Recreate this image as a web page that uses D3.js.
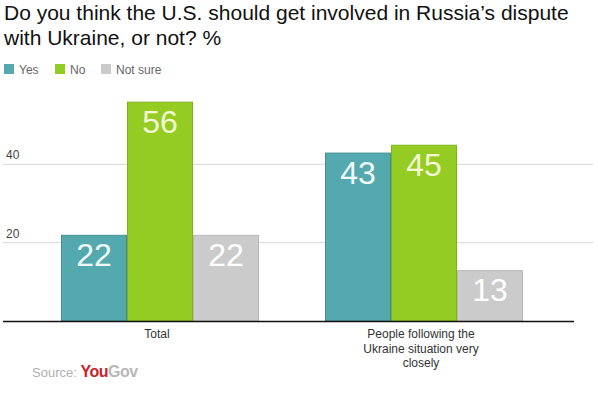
<!DOCTYPE html>
<html>
<head>
<meta charset="utf-8">
<script src="https://cdn.jsdelivr.net/npm/d3@7"></script>
<style>
  body { margin: 0; background: #fff; }
  svg { display: block; font-family: "Liberation Sans", Arial, sans-serif; }
</style>
</head>
<body>
<svg width="598" height="398"></svg>
<script>
// chart data
const categories = ['Total', 'People following the Ukraine situation very closely'];
const categoryLines = [['Total'], ['People following the', 'Ukraine situation very', 'closely']];
const seriesNames = ['Yes', 'No', 'Not sure'];
const yesValues = [22, 43];
const noValues = [56, 45];
const notSureValues = [22, 13];
const yTicks = [20, 40];

const seriesValues = [yesValues, noValues, notSureValues];
const fills = ['#54a9ae', '#95cc24', '#cbcbcb'];
const strokes = ['#438f94', '#7db21a', '#b9b9b9'];
const labelColors = ['#f2fafa', '#f2f9d4', '#ffffff'];

const svg = d3.select('svg');

// title
const title = svg.append('text')
  .attr('fill', '#111')
  .attr('font-size', 21);
title.append('tspan').attr('x', 4).attr('y', 20)
  .text('Do you think the U.S. should get involved in Russia\u2019s dispute');
title.append('tspan').attr('x', 4).attr('y', 45)
  .text('with Ukraine, or not? %');

// legend
const legendX = [4, 55, 101];
const legend = svg.append('g');
seriesNames.forEach((name, i) => {
  legend.append('rect')
    .attr('x', legendX[i]).attr('y', 64)
    .attr('width', 10).attr('height', 10)
    .attr('fill', fills[i]);
  legend.append('text')
    .attr('x', legendX[i] + 15).attr('y', 73.5)
    .attr('font-size', 12)
    .attr('fill', '#666')
    .text(name);
});

// scales
const x = d3.scaleBand()
  .domain(categories)
  .range([28, 556]);

const xInner = d3.scaleBand()
  .domain(seriesNames)
  .range([0, x.bandwidth()])
  .paddingOuter(0.5);

const y = d3.scaleLinear()
  .domain([0, 60])
  .range([321, 86]);

// gridlines + y labels
const grid = svg.append('g');
grid.selectAll('line')
  .data(yTicks)
  .join('line')
  .attr('x1', 3).attr('x2', 593)
  .attr('y1', d => y(d)).attr('y2', d => y(d))
  .attr('stroke', '#d8d8d8');

grid.selectAll('text')
  .data(yTicks)
  .join('text')
  .attr('x', 6)
  .attr('y', d => y(d) - 5)
  .attr('font-size', 12)
  .attr('fill', '#444')
  .text(d => d);

// bars
const groups = svg.append('g')
  .selectAll('g')
  .data(categories)
  .join('g')
  .attr('transform', d => `translate(${x(d)},0)`);

groups.each(function(cat, ci) {
  const g = d3.select(this);
  seriesNames.forEach((s, si) => {
    const v = seriesValues[si][ci];
    g.append('rect')
      .attr('x', xInner(s) + 0.5)
      .attr('y', y(v) + 0.5)
      .attr('width', xInner.bandwidth() - 1)
      .attr('height', y(0) - y(v) - 0.5)
      .attr('fill', fills[si])
      .attr('stroke', strokes[si]);
    g.append('text')
      .attr('x', xInner(s) + xInner.bandwidth() / 2)
      .attr('y', y(v) + 31)
      .attr('text-anchor', 'middle')
      .attr('font-size', 32)
      .attr('fill', labelColors[si])
      .text(v);
  });
});

// x axis line
svg.append('line')
  .attr('x1', 3).attr('x2', 574)
  .attr('y1', y(0) + 0.5).attr('y2', y(0) + 0.5)
  .attr('stroke', '#111')
  .attr('stroke-width', 1.5);

// category labels
const xLabels = svg.append('g')
  .selectAll('text')
  .data(categories)
  .join('text')
  .attr('text-anchor', 'middle')
  .attr('font-size', 12)
  .attr('fill', '#333');

xLabels.each(function(cat, ci) {
  d3.select(this).selectAll('tspan')
    .data(categoryLines[ci])
    .join('tspan')
    .attr('x', x(cat) + x.bandwidth() / 2 - 3)
    .attr('y', (d, i) => 338 + i * 14.5)
    .text(d => d);
});

// source
const source = svg.append('text')
  .attr('x', 32).attr('y', 377);
source.append('tspan')
  .attr('font-size', 13)
  .attr('fill', '#b0b0b0')
  .text('Source: ');
source.append('tspan')
  .attr('font-size', 16)
  .attr('font-weight', 'bold')
  .attr('fill', '#c8232c')
  .attr('letter-spacing', -0.5)
  .text('You');
source.append('tspan')
  .attr('font-size', 16)
  .attr('font-weight', 'bold')
  .attr('fill', '#b8b8b8')
  .attr('letter-spacing', -0.5)
  .text('Gov');
</script>
</body>
</html>
